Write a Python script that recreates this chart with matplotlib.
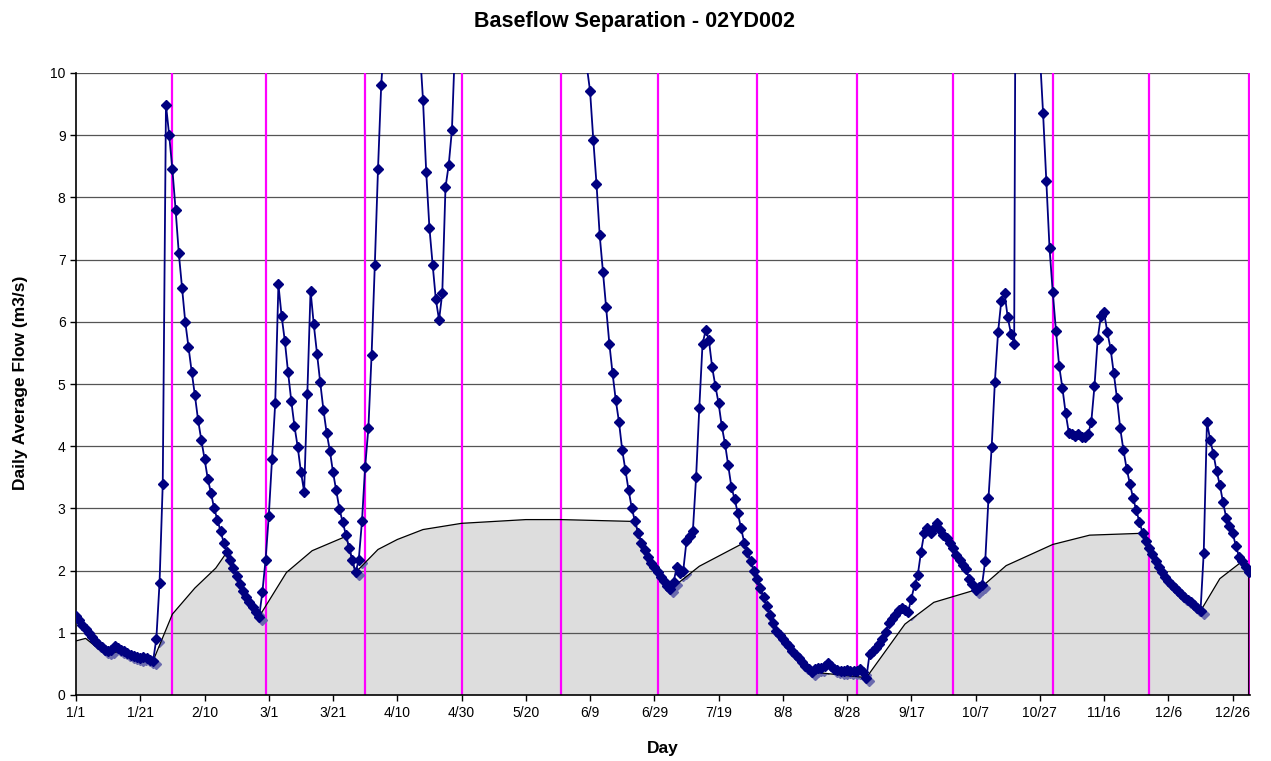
import numpy as np
import matplotlib
matplotlib.use("Agg")
import matplotlib.pyplot as plt
import matplotlib.transforms as mtransforms

# ---------------- data (daily average flow, m3/s; leap year, day 0 = 1/1) ----------------
flow_jan = [1.27, 1.20, 1.13, 1.06, 0.99, 0.93, 0.87, 0.82, 0.77, 0.73, 0.71, 0.72, 0.79, 0.76,
            0.72, 0.70, 0.67, 0.65, 0.63, 0.61, 0.60, 0.61, 0.60, 0.57, 0.55, 0.90, 1.80, 3.40,
            9.49, 9.00, 8.45]
flow_feb = [7.80, 7.10, 6.55, 6.00, 5.60, 5.20, 4.82, 4.42, 4.10, 3.80, 3.48, 3.25, 3.00, 2.82,
            2.63, 2.45, 2.30, 2.17, 2.04, 1.91, 1.79, 1.68, 1.58, 1.49, 1.41, 1.33, 1.26, 1.65, 2.17]
flow_mar = [2.88, 3.79, 4.69, 6.60, 6.09, 5.69, 5.19, 4.73, 4.32, 3.99, 3.59, 3.27, 4.84, 6.50,
            5.96, 5.49, 5.03, 4.59, 4.22, 3.93, 3.58, 3.29, 2.99, 2.78, 2.58, 2.37, 2.17, 1.97,
            2.17, 2.79, 3.67]
flow_apr = [4.29, 5.47, 6.91, 8.46, 9.81, 10.6, 12.0, 14.0, 16.0, 17.0, 16.0, 15.0, 14.0, 13.0,
            12.0, 11.0, 10.4, 9.57, 8.41, 7.51, 6.92, 6.36, 6.03, 6.46, 8.16, 8.52, 9.08, 10.5,
            11.5, 13.0]
flow_may = [15.0, 17.0, 19.0, 21.0, 23.0, 24.0, 25.0, 26.0, 27.0, 28.0, 28.0, 27.0, 26.0, 25.0,
            24.0, 23.0, 22.0, 21.0, 20.0, 19.0, 18.0, 17.0, 16.5, 16.0, 15.5, 15.0, 14.5, 14.0,
            13.5, 13.0, 12.5]
flow_jun = [12.0, 11.7, 11.4, 11.1, 10.9, 10.6, 10.4, 10.1, 9.71, 8.93, 8.22, 7.39, 6.80, 6.23,
            5.65, 5.17, 4.74, 4.39, 3.94, 3.62, 3.29, 3.00, 2.79, 2.60, 2.45, 2.33, 2.22, 2.13,
            2.05, 1.97]
flow_jul = [1.90, 1.83, 1.76, 1.70, 1.82, 2.06, 1.96, 2.00, 2.47, 2.55, 2.64, 3.50, 4.62, 5.64,
            5.87, 5.70, 5.27, 4.97, 4.69, 4.32, 4.04, 3.69, 3.34, 3.15, 2.92, 2.68, 2.45, 2.30,
            2.15, 2.00, 1.86]
flow_aug = [1.72, 1.57, 1.43, 1.29, 1.15, 1.03, 0.96, 0.90, 0.84, 0.78, 0.71, 0.65, 0.59, 0.53,
            0.47, 0.41, 0.37, 0.42, 0.43, 0.44, 0.47, 0.51, 0.46, 0.42, 0.40, 0.39, 0.38, 0.40,
            0.39, 0.38, 0.39]
flow_sep = [0.41, 0.37, 0.28, 0.66, 0.71, 0.76, 0.82, 0.90, 1.02, 1.15, 1.22, 1.29, 1.37, 1.40,
            1.36, 1.34, 1.55, 1.77, 1.93, 2.30, 2.60, 2.68, 2.60, 2.68, 2.76, 2.65, 2.57, 2.52,
            2.44, 2.36]
flow_oct = [2.25, 2.17, 2.09, 2.03, 1.87, 1.78, 1.69, 1.74, 1.77, 2.16, 3.16, 3.99, 5.04, 5.84,
            6.34, 6.46, 6.07, 5.81, 5.65, 20.0, 26.0, 30.0, 27.0, 22.0, 17.0, 13.0, 10.3, 9.35,
            8.26, 7.19, 6.48]
flow_nov = [5.86, 5.29, 4.94, 4.54, 4.22, 4.20, 4.17, 4.20, 4.15, 4.14, 4.19, 4.39, 4.97, 5.73,
            6.10, 6.15, 5.83, 5.57, 5.17, 4.77, 4.29, 3.94, 3.64, 3.40, 3.17, 2.97, 2.78, 2.60,
            2.48, 2.37]
flow_dec = [2.26, 2.16, 2.06, 1.97, 1.89, 1.83, 1.77, 1.72, 1.67, 1.62, 1.57, 1.53, 1.49, 1.44,
            1.40, 1.35, 2.29, 4.39, 4.10, 3.88, 3.60, 3.38, 3.10, 2.85, 2.72, 2.60, 2.40, 2.22,
            2.15, 2.05, 1.98]

# baseflow: knots of the separation line, plus day ranges where baseflow equals flow
base_knot_days = [0, 3, 9, 13.5, 17.5, 24, 30, 37, 43.5, 65.5, 73.5, 84, 94, 100, 108, 120,
                  140, 151, 194, 258, 267, 280, 282.6, 289.5, 304, 315.5, 356]
base_knot_vals = [0.87, 0.91, 0.66, 0.70, 0.61, 0.55, 1.30, 1.72, 2.04, 1.97, 2.32, 2.55, 2.34,
                  2.50, 2.66, 2.76, 2.82, 2.82, 2.07, 1.14, 1.49, 1.69, 1.77, 2.08, 2.42, 2.57,
                  1.87]
base_follow_ranges = [(47, 57), (85, 87), (174, 185), (208, 229), (246, 246), (332, 350),
                      (363, 365)]

month_end_days = [30, 59, 90, 120, 151, 181, 212, 243, 273, 304, 334, 365]
tick_days = list(range(0, 361, 20))
tick_labels = ['1/1', '1/21', '2/10', '3/1', '3/21', '4/10', '4/30', '5/20', '6/9', '6/29',
               '7/19', '8/8', '8/28', '9/17', '10/7', '10/27', '11/16', '12/6', '12/26']

# ---------------- build series ----------------
flow = np.array(flow_jan + flow_feb + flow_mar + flow_apr + flow_may + flow_jun + flow_jul +
                flow_aug + flow_sep + flow_oct + flow_nov + flow_dec)
days = np.arange(len(flow))

pts = dict(zip(base_knot_days, base_knot_vals))
for a, b in base_follow_ranges:
    for d in range(a, b + 1):
        pts[d] = flow[d]
bx = np.array(sorted(pts))
by = np.array([pts[d] for d in bx])

# ---------------- plot ----------------
plt.rcParams['font.family'] = ['Liberation Sans', 'DejaVu Sans']
fig = plt.figure(figsize=(12.71, 7.61), dpi=100)
ax = fig.add_axes([76 / 1271, 66 / 761, 1174 / 1271, 622 / 761])

poly = ax.fill_between(bx, 0, by, facecolor='#DDDDDD', edgecolor='none', zorder=0.5)

for y in range(1, 11):
    ax.axhline(y, color='#555555', lw=0.9, zorder=1.0)

for d in month_end_days:
    ax.axvline(d, color='#FF00FF', lw=1.6, zorder=1.2)

# marker shadow (visible only over the grey baseflow area)
shadow_tr = ax.transData + mtransforms.ScaledTranslation(3 / 100, -3 / 100, fig.dpi_scale_trans)
sh, = ax.plot(days, flow, linestyle='none', marker='D', markersize=4.8,
              color='#6A6AAE', markeredgecolor='#6A6AAE', transform=shadow_tr, zorder=1.4)
sh.set_clip_path(poly.get_paths()[0], ax.transData)

ax.plot(np.r_[bx, bx[-1]], np.r_[by, 0.0], color='black', lw=0.9, zorder=1.6)

ax.plot(days, flow, color='#000080', lw=1.3, marker='D', markersize=4.6,
        markeredgecolor='#000080', markerfacecolor='#000080', zorder=3)

ax.set_xlim(0, 365.4)
ax.set_ylim(0, 10)
ax.set_yticks(range(0, 11))
ax.set_xticks(tick_days)
ax.set_xticklabels(tick_labels)
ax.tick_params(axis='both', direction='out', length=4, width=1, labelsize=10, colors='black')
ax.tick_params(axis='x', pad=4)
for s in ['top', 'right']:
    ax.spines[s].set_visible(False)
for s in ['left', 'bottom']:
    ax.spines[s].set_linewidth(1.2)
    ax.spines[s].set_color('black')
    ax.spines[s].set_zorder(2.5)

fig.text(0.4993, 0.972, 'Baseflow Separation - 02YD002', ha='center', va='center',
         fontsize=15.5, fontweight='bold')
fig.text(0.016, 0.497, 'Daily Average Flow (m3/s)', ha='center', va='center', rotation=90,
         fontsize=12.5, fontweight='bold')
fig.text(663 / 1271, 0.016, 'Day', ha='center', va='center', fontsize=12.5, fontweight='bold')

fig.savefig('out.png', dpi=100)
